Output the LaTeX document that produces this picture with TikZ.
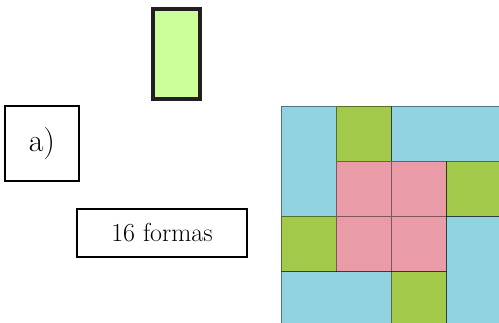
\documentclass[tikz,border=0pt]{standalone}
\usetikzlibrary{positioning}

\definecolor{pieza}{RGB}{204,255,153}
\definecolor{borde}{RGB}{35,31,32}
\definecolor{azul}{RGB}{146,211,226}
\definecolor{verde}{RGB}{163,201,74}
\definecolor{rosa}{RGB}{234,155,168}

\begin{document}
\begin{tikzpicture}[x=1pt,y=1pt,
  caja/.style={draw,line width=1.2pt,inner sep=0pt},
  tile/.style={draw=black,draw opacity=0.45,line width=0.8pt}]
  \clip (0,0) rectangle (499,322);
  % pieza suelta
  \node[draw=borde,line width=4pt,fill=pieza,minimum width=47pt,minimum height=90pt,inner sep=0pt] (pieza) at (176.5,268) {};
  \node[caja,minimum width=74pt,minimum height=75pt,font=\fontsize{32}{32}\selectfont] (item) at (42,178.5) {a)};
  \node[caja,minimum width=170pt,minimum height=48pt,font=\fontsize{26}{26}\selectfont] (cuenta) at (162,89) {16 formas};
  % tablero 4x4
  \begin{scope}[shift={(281,216)},x=55pt,y=-55pt]
    \draw[tile,fill=azul] (0,0) rectangle (1,2);
    \draw[tile,fill=azul] (2,0) rectangle (4,1);
    \draw[tile,fill=azul] (3,2) rectangle (4,4);
    \draw[tile,fill=azul] (0,3) rectangle (2,4);
    \foreach \c/\r in {1/0,3/1,0/2,2/3}
      \draw[tile,fill=verde] (\c,\r) rectangle ++(1,1);
    \foreach \c/\r in {1/1,2/1,1/2,2/2}
      \draw[tile,fill=rosa] (\c,\r) rectangle ++(1,1);
  \end{scope}
\end{tikzpicture}
\end{document}
